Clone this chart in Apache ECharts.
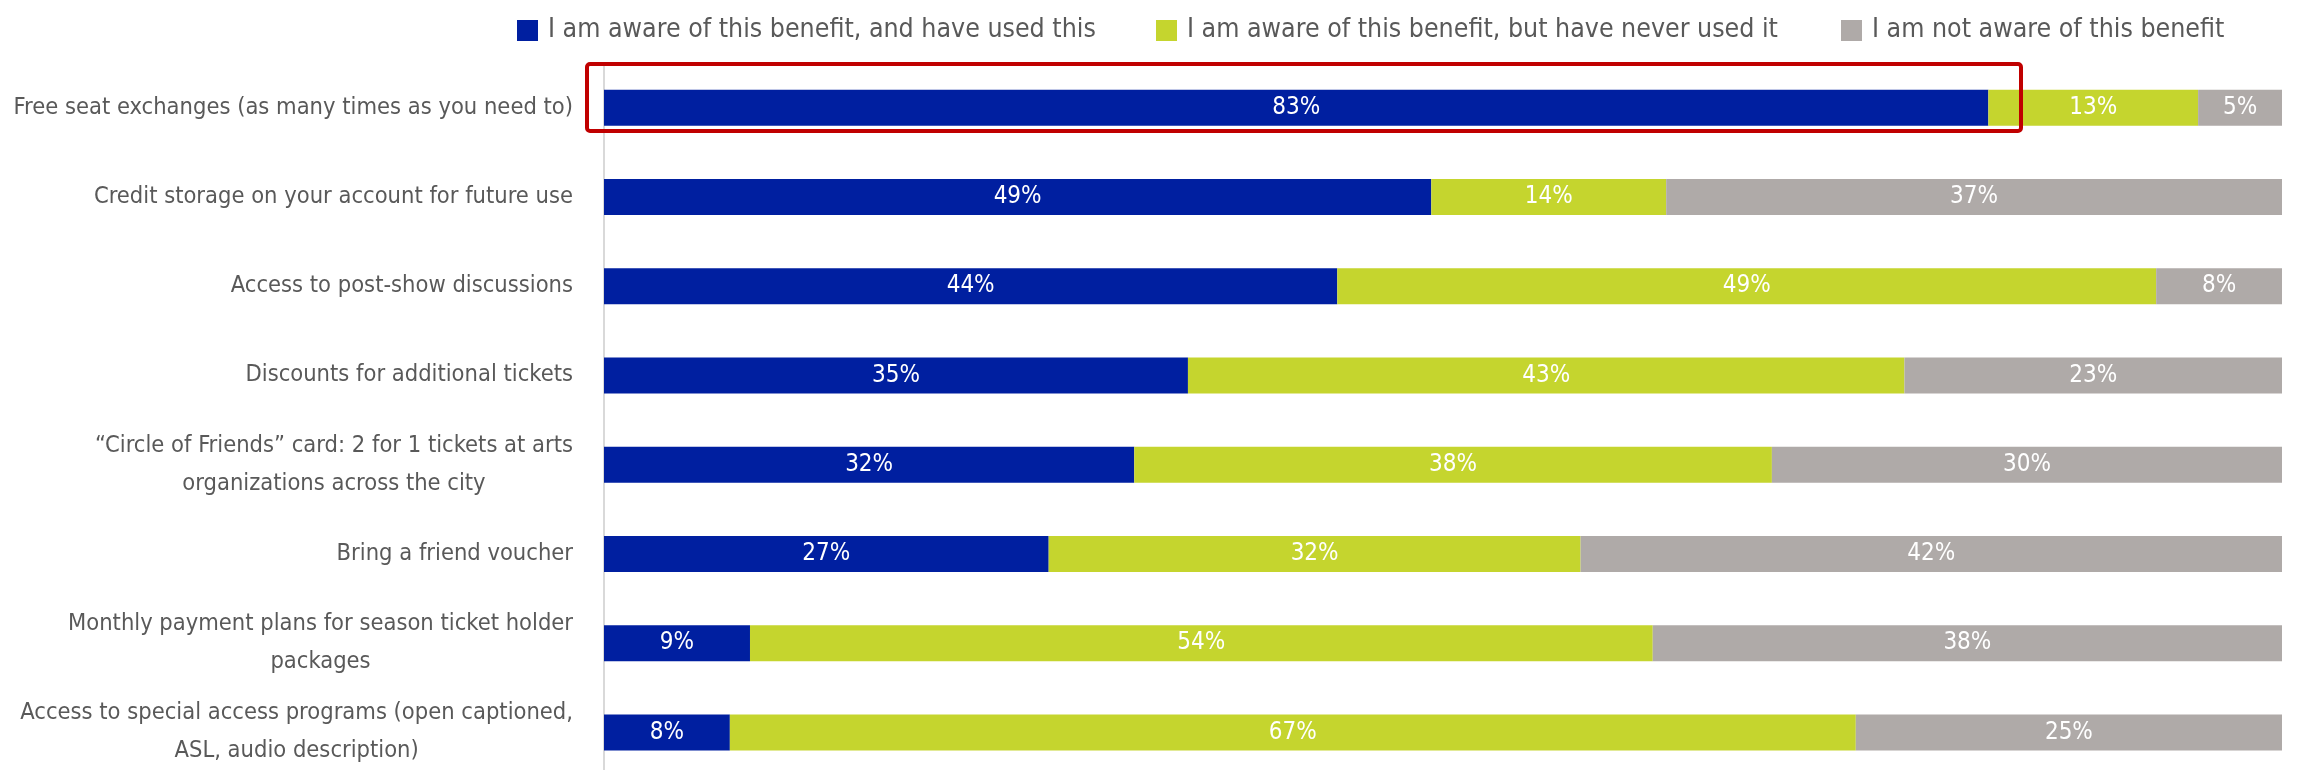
<!DOCTYPE html>
<html>
<head>
<meta charset="utf-8">
<title>Benefits awareness</title>
<script src="https://cdn.jsdelivr.net/npm/echarts@6/dist/echarts.min.js"></script>
<style>
    html, body { margin: 0; padding: 0; background: #fff; }
    #plot { width: 2305px; height: 770px; }
</style>
</head>
<body>
<div id="plot"></div>
<script>
// categories, top to bottom
const categories = [
    'Free seat exchanges (as many times as you need to)',
    'Credit storage on your account for future use',
    'Access to post-show discussions',
    'Discounts for additional tickets',
    '\u201cCircle of Friends\u201d card: 2 for 1 tickets at arts\norganizations across the city',
    'Bring a friend voucher',
    'Monthly payment plans for season ticket holder\npackages',
    'Access to special access programs (open captioned,\nASL, audio description)'
];

const seriesNames = [
    'I am aware of this benefit, and have used this',
    'I am aware of this benefit, but have never used it',
    'I am not aware of this benefit'
];

// values (percent)
const usedIt = [82.5, 49.3, 43.7, 34.8, 31.6, 26.5, 8.7, 7.5];
const neverUsed = [12.5, 14.0, 48.8, 42.7, 38.0, 31.7, 53.8, 67.1];
const notAware = [5.0, 36.7, 7.5, 22.5, 30.4, 41.8, 37.5, 25.4];

const colors = ['#001fa0', '#c5d52e', '#afaaa8'];
const fontName = '"Liberation Sans Narrow", "DejaVu Sans Condensed", Lato, sans-serif';

let chart = echarts.init(document.getElementById('plot'));

function makeSeries(name, data, color) {
    return {
        name: name,
        type: 'bar',
        stack: 'total',
        barWidth: 36,
        data: data,
        itemStyle: { color: color },
        label: {
            show: true,
            position: 'inside',
            color: '#ffffff',
            fontFamily: fontName,
            fontSize: 24,
            formatter: function (p) { return Math.round(p.value) + '%'; }
        }
    };
}

// one legend per entry, so each can sit where the original put it
function makeLegend(name, left) {
    return {
        data: [name],
        left: left,
        top: 12,
        icon: 'rect',
        itemWidth: 21,
        itemHeight: 21,
        textStyle: {
            color: '#595959',
            fontFamily: fontName,
            fontSize: 26.5,
            padding: [0, 0, 0, 5]
        }
    };
}

let option = {
    backgroundColor: '#ffffff',
    animation: false,
    color: colors,
    legend: [
        makeLegend(seriesNames[0], 512),
        makeLegend(seriesNames[1], 1151),
        makeLegend(seriesNames[2], 1836)
    ],
    grid: {
        left: 604,
        right: 23,
        top: 63,
        height: 714,
        containLabel: false,
        outerBoundsMode: 'none'
    },
    xAxis: {
        type: 'value',
        min: 0,
        max: 100,
        show: false
    },
    yAxis: {
        type: 'category',
        inverse: true,
        data: categories,
        axisLine: { show: true, lineStyle: { color: '#d9d9d9', width: 2 } },
        axisTick: { show: false },
        axisLabel: {
            margin: 31,
            align: 'right',
            formatter: function (v) {
                // each line centred inside the block, like the original
                return v.split('\n').map(function (s) { return '{c|' + s + '}'; }).join('\n');
            },
            rich: {
                c: {
                    align: 'center',
                    color: '#595959',
                    fontFamily: fontName,
                    fontSize: 23.5,
                    lineHeight: 38
                }
            }
        }
    },
    series: [
        makeSeries(seriesNames[0], usedIt, colors[0]),
        makeSeries(seriesNames[1], neverUsed, colors[1]),
        makeSeries(seriesNames[2], notAware, colors[2])
    ],
    graphic: [
        {
            // red highlight box round the first row
            type: 'rect',
            shape: { x: 587, y: 64, width: 1434, height: 67, r: 3 },
            style: { fill: null, stroke: '#c00000', lineWidth: 4 },
            z: 100
        }
    ]
};

chart.setOption(option);
</script>
</body>
</html>
